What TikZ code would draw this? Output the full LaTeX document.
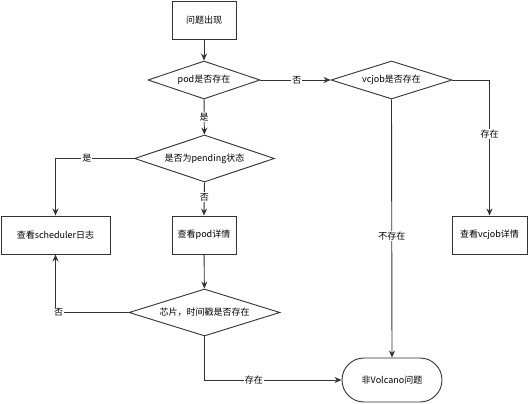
\documentclass[tikz,border=0pt]{standalone}
\usepackage{fontspec}
\newfontfamily\cjk{Noto Sans CJK SC}
\usetikzlibrary{shapes.geometric,arrows.meta}
\definecolor{lineC}{HTML}{333333}
\begin{document}
\begin{tikzpicture}
  [x=1pt,y=-1pt,
   font=\cjk\fontsize{9}{11}\selectfont,
   boxN/.style={rectangle,draw=lineC,minimum width=64pt,minimum height=38pt,inner sep=2pt},
   decN/.style={diamond,draw=lineC,shape aspect=3,inner sep=0pt},
   endN/.style={rectangle,rounded corners=22pt,draw=lineC,minimum width=100pt,minimum height=44pt},
   lbl/.style={fill=white,inner sep=1pt},
   arr/.style={draw=lineC,-{Stealth[length=7pt,width=6pt]}},
   line width=0.9pt]

  \useasboundingbox (0,0) rectangle (528,404);

  \node[boxN] (start) at (204,20) {问题出现};
  \node[decN,minimum width=112pt,minimum height=38pt] (podQ) at (204,80) {pod是否存在};
  \node[decN,minimum width=121pt,minimum height=38pt] (jobQ) at (391.5,80) {vcjob是否存在};
  \node[decN,minimum width=140pt,minimum height=47pt] (pendQ) at (204.5,158.5) {是否为pending状态};

  \node[boxN,minimum width=109pt] (sched) at (55.5,235) {查看scheduler日志};
  \node[boxN] (podD) at (204,235) {查看pod详情};
  \node[boxN,minimum width=75pt] (jobD) at (489.5,235) {查看vcjob详情};

  \node[decN,minimum width=151pt,minimum height=47pt] (chipQ) at (204.5,312.5) {芯片，时间戳是否存在};
  \node[endN] (notV) at (392,380) {非Volcano问题};

  \draw [arr] (start) -- (podQ);
  \draw [arr] (podQ) -- node[lbl] {是} (pendQ);
  \draw [arr] (podQ.east) -- node[lbl,pos=0.52] {否} (jobQ.west);

  \draw [arr] (jobQ.east) -| node[lbl,pos=0.7] {存在} (jobD.north);
  \draw [arr] (jobQ.south) -- node[lbl,pos=0.53] {不存在} (notV.north);

  \draw [arr] (pendQ.west) -| node[lbl,pos=0.3] {是} (sched.north);
  \draw [arr] (pendQ.south) -- node[lbl,pos=0.45] {否} (podD.north);
  \draw [arr] (podD) -- (chipQ);

  \draw [arr] (chipQ.west) -| node[lbl,pos=0.5,xshift=3pt] {否} (sched.south);
  \draw [arr] (chipQ.south) |- node[lbl,pos=0.68] {存在} (notV.west);
\end{tikzpicture}
\end{document}
